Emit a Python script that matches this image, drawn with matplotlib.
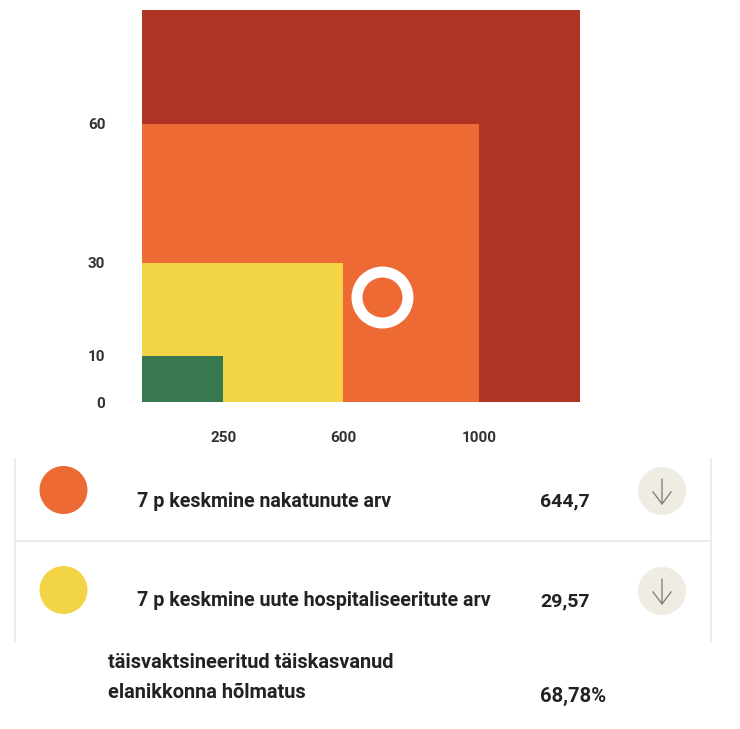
import matplotlib
matplotlib.use('Agg')
import matplotlib.pyplot as plt
from matplotlib.patches import Rectangle, Circle

plt.rcParams['font.family'] = ['Roboto', 'DejaVu Sans']

# chart axes: cases across, hospitalised up
x_tick_pos = [243, 598, 1000]
x_tick_labels = ['250', '600', '1000']
y_ticks = [0, 10, 30, 60]
x_limit = 1300
y_limit = 84.6
zone_x = [1300, 1000, 598, 243]
zone_y = [84.6, 60, 30, 10]
zone_colors = ['#AE3423', '#EE6A34', '#F3D447', '#37784E']

marker_x = 714
marker_y = 22.6

row_labels = ['7 p keskmine nakatunute arv', '7 p keskmine uute hospitaliseeritute arv']
row_values = ['644,7', '29,57']
row_colors = ['#EE6A34', '#F3D447']
vax_label = ['täisvaktsineeritud täiskasvanud', 'elanikkonna hõlmatus']
vax_value = '68,78%'

W, H = 740, 729
fig = plt.figure(figsize=(W / 100, H / 100), dpi=100)

# chart
ax = fig.add_axes([141.5 / W, 1 - 402 / H, 438.5 / W, 392 / H])
ax.set_xlim(0, x_limit)
ax.set_ylim(0, y_limit)
for zx, zy, c in zip(zone_x, zone_y, zone_colors):
    ax.add_patch(Rectangle((0, 0), zx, zy, facecolor=c, edgecolor='none'))
for s in ax.spines.values():
    s.set_visible(False)
ax.set_xticks(x_tick_pos, x_tick_labels)
ax.set_yticks(y_ticks)
ax.tick_params(length=0, labelsize=11, pad=21, labelcolor='#333333')
ax.tick_params(axis='y', pad=26)
for lab in ax.get_xticklabels() + ax.get_yticklabels():
    lab.set_fontweight('bold')
ax.scatter([marker_x], [marker_y], s=1347, facecolor='#EE6A34', edgecolor='white', linewidth=7.9, zorder=5)

# table below the chart, in pixel coordinates
tb = fig.add_axes([0, 0, 1, 1], zorder=-1)
tb.set_xlim(0, W)
tb.set_ylim(H, 0)
tb.axis('off')
tb.patch.set_alpha(0)
line = '#E9E9E7'
tb.plot([15, 710], [541, 541], color=line, lw=1.2)
tb.plot([15, 15], [459, 642], color=line, lw=1.2)
tb.plot([711, 711], [459, 642], color=line, lw=1.2)
for cy, ty, lab, val, c in zip([490, 590], [501, 601], row_labels, row_values, row_colors):
    tb.add_patch(Circle((63.5, cy), 24, facecolor=c, edgecolor='none'))
    tb.text(137, ty, lab, fontsize=14.15, fontweight='bold', va='center', color='#222222')
    tb.text(540, ty, val, fontsize=14, fontweight='bold', va='center', color='#222222')
    tb.add_patch(Circle((662, cy + 1), 24, facecolor='#EFECE4', edgecolor='none'))
    tb.annotate('', xy=(662, cy + 15), xytext=(662, cy - 11),
                arrowprops=dict(arrowstyle='->,head_length=0.4,head_width=0.3', color='#777777', lw=0.9,
                                mutation_scale=22, shrinkA=0, shrinkB=0))
tb.text(108, 663, vax_label[0], fontsize=14.45, fontweight='bold', va='center', color='#222222')
tb.text(108, 693, vax_label[1], fontsize=14.45, fontweight='bold', va='center', color='#222222')
tb.text(540, 696, vax_value, fontsize=14.6, fontweight='bold', va='center', color='#222222')

fig.savefig('out.png', dpi=100)
